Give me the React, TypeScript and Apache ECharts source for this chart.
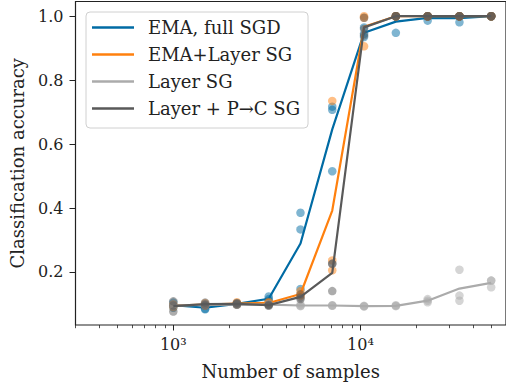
import React, { useEffect, useRef } from "react";
import * as echarts from "echarts";

// ---- Data ----
const X_SAMPLES = [1000, 1479, 2187, 3234, 4783, 7071, 10458, 15467, 22875, 33830, 50000];

const SERIES_NAMES = ["EMA, full SGD", "EMA+Layer SG", "Layer SG", "Layer + P→C SG"];
const COLORS = ["#006BA4", "#FF800E", "#ABABAB", "#595959"];

// mean curves
const EMA_FULL_MEAN = [0.096, 0.088, 0.100, 0.116, 0.289, 0.646, 0.948, 0.983, 0.995, 0.994, 1.0];
const EMA_LAYER_MEAN = [0.095, 0.098, 0.101, 0.103, 0.131, 0.392, 0.967, 1.0, 1.0, 1.0, 1.0];
const LAYER_MEAN = [0.095, 0.097, 0.098, 0.098, 0.095, 0.095, 0.093, 0.094, 0.110, 0.148, 0.166];
const LAYER_PC_MEAN = [0.093, 0.099, 0.100, 0.096, 0.122, 0.197, 0.965, 1.0, 1.0, 1.0, 1.0];

// individual runs (3 seeds per method)
const EMA_FULL_RUNS = [
  [0.104, 0.083, 0.102, 0.123, 0.385, 0.717, 0.965, 0.948, 1.0, 0.981, 1.0],
  [0.095, 0.085, 0.100, 0.110, 0.333, 0.707, 0.945, 1.0, 1.0, 1.0, 1.0],
  [0.088, 0.095, 0.098, 0.115, 0.147, 0.515, 0.935, 1.0, 0.986, 1.0, 1.0],
];
const EMA_LAYER_RUNS = [
  [0.098, 0.102, 0.105, 0.100, 0.140, 0.735, 1.0, 1.0, 1.0, 1.0, 1.0],
  [0.090, 0.097, 0.098, 0.106, 0.125, 0.236, 0.995, 1.0, 1.0, 1.0, 1.0],
  [0.096, 0.095, 0.100, 0.103, 0.128, 0.205, 0.906, 1.0, 1.0, 1.0, 1.0],
];
const LAYER_RUNS = [
  [0.097, 0.100, 0.099, 0.097, 0.098, 0.096, 0.094, 0.096, 0.115, 0.207, 0.173],
  [0.093, 0.095, 0.098, 0.100, 0.094, 0.094, 0.093, 0.093, 0.105, 0.126, 0.173],
  [0.095, 0.096, 0.097, 0.098, 0.093, 0.095, 0.092, 0.094, 0.110, 0.110, 0.152],
];
const LAYER_PC_RUNS = [
  [0.108, 0.104, 0.103, 0.098, 0.130, 0.226, 0.995, 1.0, 1.0, 1.0, 1.0],
  [0.095, 0.098, 0.100, 0.094, 0.120, 0.225, 0.960, 1.0, 1.0, 1.0, 1.0],
  [0.076, 0.094, 0.098, 0.096, 0.115, 0.140, 0.940, 1.0, 1.0, 1.0, 1.0],
];

const Y_TICKS = [0.2, 0.4, 0.6, 0.8, 1.0];
const X_MAJOR_TICKS = [1000, 10000];
const X_MINOR_TICKS = [300, 400, 500, 600, 700, 800, 900, 2000, 3000, 4000, 5000, 6000, 7000, 8000, 9000, 20000, 30000, 40000, 50000, 60000];
const X_TICK_LABELS: Record<number, string> = { 1000: "10³", 10000: "10⁴" };

const MEANS = [EMA_FULL_MEAN, EMA_LAYER_MEAN, LAYER_MEAN, LAYER_PC_MEAN];
const RUNS = [EMA_FULL_RUNS, EMA_LAYER_RUNS, LAYER_RUNS, LAYER_PC_RUNS];

const FONT = "DejaVu Serif";

export default function App() {
  const ref = useRef<HTMLDivElement>(null);

  useEffect(() => {
    if (!ref.current) return;
    const chart = echarts.init(ref.current, undefined, { renderer: "svg" });

    const series: any[] = [];
    SERIES_NAMES.forEach((name, i) => {
      const pts: number[][] = [];
      RUNS[i].forEach((run) => run.forEach((v, j) => pts.push([X_SAMPLES[j], v])));
      series.push({
        name: name + " (runs)",
        type: "scatter",
        data: pts,
        symbolSize: 8.5,
        itemStyle: { color: COLORS[i], opacity: 0.5 },
        z: 2 + i * 2,
        silent: true,
      });
      series.push({
        name,
        type: "line",
        data: MEANS[i].map((v, j) => [X_SAMPLES[j], v]),
        showSymbol: false,
        symbol: "none",
        lineStyle: { color: COLORS[i], width: 2.2 },
        itemStyle: { color: COLORS[i] },
        z: 3 + i * 2,
      });
    });

    const axisText = { fontFamily: FONT, fontSize: 16, color: "#222" };

    chart.setOption({
      animation: false,
      backgroundColor: "#fff",
      grid: {
        left: 75.5,
        top: 1.5,
        width: 435,
        height: 323.5,
        show: true,
        borderColor: "#222",
        borderWidth: 1.2,
        backgroundColor: "#fff",
      },
      legend: {
        data: SERIES_NAMES,
        orient: "vertical",
        left: 86,
        top: 12,
        icon: "rect",
        itemWidth: 42,
        itemHeight: 2.6,
        itemGap: 6,
        padding: [5, 8, 9, 6],
        backgroundColor: "rgba(255,255,255,0.85)",
        borderColor: "#d0d0d0",
        borderWidth: 1,
        borderRadius: 4,
        textStyle: { fontFamily: FONT, fontSize: 18, color: "#222", lineHeight: 21, padding: [0, 0, 0, 9] },
      },
      xAxis: [
        {
          type: "log",
          logBase: 10,
          min: 300,
          max: 60000,
          name: "Number of samples",
          nameLocation: "middle",
          nameGap: 37,
          nameTextStyle: { fontFamily: FONT, fontSize: 18, color: "#222" },
          axisLine: { show: false },
          splitLine: { show: false },
          axisTick: { show: true, length: 5.5, inside: false, customValues: X_MAJOR_TICKS, lineStyle: { color: "#222", width: 1 } },
          axisLabel: {
            ...axisText,
            margin: 11,
            customValues: X_MAJOR_TICKS,
            formatter: (v: number) => X_TICK_LABELS[Math.round(v)] ?? "",
          },
        },
        {
          type: "log",
          logBase: 10,
          min: 300,
          max: 60000,
          position: "bottom",
          axisLine: { show: false },
          splitLine: { show: false },
          axisLabel: { show: false },
          axisTick: { show: true, length: 3.2, customValues: X_MINOR_TICKS, lineStyle: { color: "#222", width: 0.8 } },
        },
      ],
      yAxis: {
        type: "value",
        min: 0.034,
        max: 1.046,
        name: "Classification accuracy",
        nameLocation: "middle",
        nameGap: 49,
        nameTextStyle: { fontFamily: FONT, fontSize: 18, color: "#222" },
        axisLine: { show: false },
        splitLine: { show: false },
        axisTick: { show: true, length: 6, customValues: Y_TICKS, lineStyle: { color: "#222", width: 1 } },
        axisLabel: {
          ...axisText,
          margin: 12,
          customValues: Y_TICKS,
          formatter: (v: number) => v.toFixed(1),
        },
      },
      series,
    });

    return () => chart.dispose();
  }, []);

  return (
    <div
      ref={ref}
      style={{ position: "fixed", left: 0, top: 0, width: 506, height: 388, background: "#fff" }}
    />
  );
}
